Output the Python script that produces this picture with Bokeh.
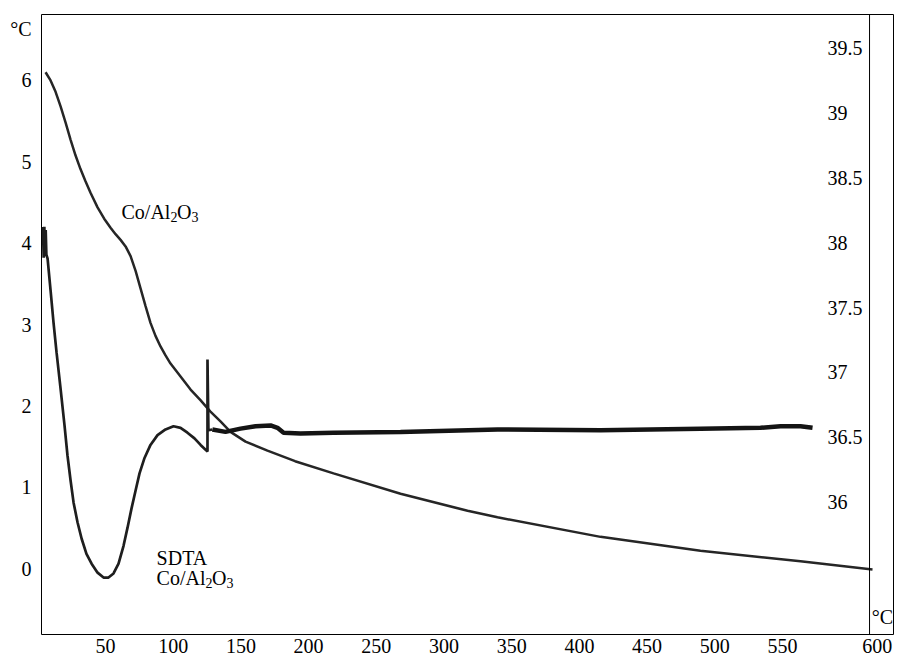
from bokeh.plotting import figure
from bokeh.models import Range1d, LinearAxis, FixedTicker, Span, Label
from bokeh.embed import file_html
from bokeh.resources import INLINE

FONT = "Liberation Serif"

# axis ticks
x_ticks = [50, 100, 150, 200, 250, 300, 350, 400, 450, 500, 550, 620]
x_tick_labels = {620: "600"}
left_ticks = [0, 1, 2, 3, 4, 5, 6]
left_unit_at = 6.63
right_ticks = [36, 36.5, 37, 37.5, 38, 38.5, 39, 39.5]
right_tick_labels = {36: "36", 37: "37", 38: "38", 39: "39"}

# Co/Al2O3 temperature trace (smooth)
co_x = [5.7, 9.4, 13.1, 16.8, 20.5, 24.2, 27.8, 31.5, 35.2, 38.9, 44.1, 49.0,
        53.7, 57.4, 61.1, 64.8, 68.5, 72.2, 75.9, 79.5, 83.2, 86.9, 90.6,
        94.3, 98.0, 105.4, 112.8, 120.1, 127.5, 134.9, 142.3, 153.4, 169.6,
        190.0, 218.4, 267.9, 317.4, 339.5, 415.6, 489.4, 563.3, 616.5]
co_y = [6.10, 6.00, 5.86, 5.68, 5.48, 5.27, 5.08, 4.91, 4.76, 4.62, 4.44, 4.30,
        4.19, 4.11, 4.04, 3.96, 3.84, 3.66, 3.44, 3.23, 3.02, 2.86, 2.73,
        2.62, 2.52, 2.36, 2.20, 2.07, 1.93, 1.81, 1.68, 1.56, 1.45,
        1.32, 1.17, 0.92, 0.71, 0.63, 0.39, 0.22, 0.09, -0.01]

# SDTA Co/Al2O3: start-up, endotherm and spike
sdta_x = [3.8, 4.3, 4.8, 5.3, 5.8, 6.3, 7.2, 9.4, 11.6, 13.8, 16.8, 19.7,
          21.9, 24.2, 26.4, 29.3, 32.3, 35.9, 39.7, 44.1, 48.5, 52.2, 55.9,
          59.6, 63.3, 66.2, 69.2, 72.2, 75.1, 78.8, 83.2, 88.4, 94.3, 100.2,
          105.4, 110.5, 115.7, 120.2, 123.9, 125.3, 125.3, 126.0, 128.9]
sdta_y = [4.20, 3.82, 4.20, 3.84, 4.16, 3.86, 3.81, 3.42, 3.02, 2.66, 2.21,
          1.76, 1.39, 1.08, 0.81, 0.57, 0.37, 0.18, 0.06, -0.05, -0.11, -0.11,
          -0.06, 0.06, 0.28, 0.50, 0.74, 0.96, 1.17, 1.36, 1.52, 1.64, 1.71,
          1.75, 1.73, 1.67, 1.60, 1.52, 1.46, 1.44, 2.57, 1.70, 1.71]

# SDTA Co/Al2O3: noisy plateau
plateau_x = [128.9, 138.6, 149.7, 160.8, 171.9, 177.0, 181.5, 194.0, 218.4,
             267.9, 339.5, 415.6, 489.4, 533.8, 548.5, 563.3, 572.2]
plateau_y = [1.71, 1.68, 1.72, 1.75, 1.76, 1.73, 1.67, 1.66, 1.67,
             1.68, 1.71, 1.70, 1.72, 1.73, 1.75, 1.75, 1.73]

p = figure(width=898, height=662,
           x_range=Range1d(2.7, 632.0), y_range=Range1d(-0.81, 6.81),
           output_backend="svg", toolbar_location=None,
           min_border_left=41, min_border_right=5,
           min_border_top=14, min_border_bottom=28)
p.extra_y_ranges = {"right": Range1d(34.98, 39.76)}

p.background_fill_color = "white"
p.border_fill_color = "white"
p.outline_line_color = "black"
p.outline_line_width = 1
p.outline_line_alpha = 1
p.xgrid.visible = False
p.ygrid.visible = False


def style_axis(ax, standoff):
    ax.axis_line_color = None
    ax.major_tick_line_color = None
    ax.minor_tick_line_color = None
    ax.major_tick_out = 0
    ax.major_tick_in = 0
    ax.minor_tick_out = 0
    ax.minor_tick_in = 0
    ax.major_label_standoff = standoff
    ax.major_label_text_font = FONT
    ax.major_label_text_font_size = "20px"
    ax.major_label_text_color = "black"


xa = p.xaxis[0]
xa.ticker = FixedTicker(ticks=x_ticks)
xa.major_label_overrides = x_tick_labels
style_axis(xa, 4)

# left scale, with its unit sitting above the top value
ya = p.yaxis[0]
ya.ticker = FixedTicker(ticks=left_ticks + [left_unit_at])
ya.major_label_overrides = {left_unit_at: "°C"}
style_axis(ya, 10)

ra = LinearAxis(y_range_name="right", ticker=FixedTicker(ticks=right_ticks))
ra.major_label_overrides = right_tick_labels
style_axis(ra, -66)
p.add_layout(ra, "right")

# inner right scale line
p.add_layout(Span(location=614.3, dimension="height",
                  line_color="black", line_width=1))

p.line(co_x, co_y, line_color="#262626", line_width=2.5)
p.line(sdta_x, sdta_y, line_color="#1e1e1e", line_width=2.7)
p.line(plateau_x, plateau_y, line_color="#141414", line_width=4.5)


def label(x, y, text, size="20px", x_off=0, y_off=0, align="left",
          baseline="alphabetic"):
    p.add_layout(Label(x=x, y=y, text=text, x_offset=x_off, y_offset=y_off,
                       text_font=FONT, text_font_size=size,
                       text_color="black", text_align=align,
                       text_baseline=baseline))


# Co/Al2O3 label next to the smooth trace
label(61.8, 4.38, "Co/Al")
label(61.8, 4.38, "2", size="14px", x_off=49, y_off=-5)
label(61.8, 4.38, "O", x_off=55.5)
label(61.8, 4.38, "3", size="14px", x_off=70, y_off=-5)

# SDTA label
label(87.7, 0.135, "SDTA")
label(87.7, -0.12, "Co/Al")
label(87.7, -0.12, "2", size="14px", x_off=49, y_off=-5)
label(87.7, -0.12, "O", x_off=55.5)
label(87.7, -0.12, "3", size="14px", x_off=70, y_off=-5)

# unit mark of the time axis
label(623.9, -0.60, "°C", align="center", baseline="middle")

open("out.html", "w").write(file_html(p, INLINE))
